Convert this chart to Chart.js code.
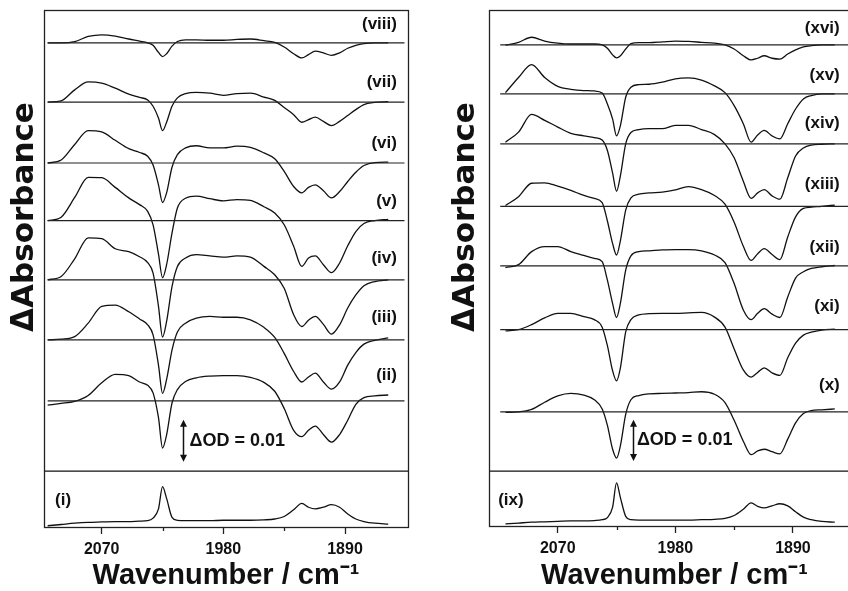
<!DOCTYPE html>
<html>
<head>
<meta charset="utf-8">
<script src="https://cdn.jsdelivr.net/npm/chart.js@4.4.1/dist/chart.umd.min.js"></script>
<style>
    html, body { margin: 0; padding: 0; background: #fff; overflow: hidden; }
    body { width: 848px; height: 591px; position: relative; }
    .panel { position: absolute; top: 0; height: 591px; }
    #left { left: 0; width: 424px; }
    #right { left: 424px; width: 440px; }
</style>
</head>
<body>
<div class="panel" id="left"><canvas id="chartLeft"></canvas></div>
<div class="panel" id="right"><canvas id="chartRight"></canvas></div>
<script>
// wavenumber grid (cm-1) shared by all spectra
const wavenumbers = [2110, 2100, 2090, 2080, 2070, 2060, 2050, 2042, 2036, 2032, 2028, 2025, 2022, 2018, 2014, 2008, 2000, 1990, 1980, 1970, 1960, 1950, 1942, 1935, 1928, 1922, 1917, 1912, 1906, 1900, 1894, 1888, 1882, 1876, 1868, 1858];

// tick labels
const tickValues = [2070, 1980, 1890];
const minorTicks = [2025, 1935];

// spectra, ΔAbsorbance in mOD (1e-3)
const spec1 = [0, 0.3, 0.6, 0.8, 0.9, 1.0, 1.0, 1.1, 1.2, 1.8, 4.0, 9.3, 6.5, 2.0, 1.3, 1.2, 1.2, 1.2, 1.3, 1.3, 1.3, 1.4, 1.6, 2.2, 3.8, 5.3, 4.4, 4.0, 4.4, 5.0, 4.4, 2.8, 1.6, 1.0, 0.6, 0.4];
const spec2 = [-1.0, -0.6, -0.1, 1.3, 4.3, 6.3, 6.0, 4.5, 3.7, 1.9, -4.0, -11.2, -8.1, -0.5, 2.7, 4.6, 5.5, 5.9, 6.0, 6.0, 5.6, 4.4, 2.3, -1.8, -7.0, -8.5, -7.0, -6.0, -8.0, -9.8, -8.0, -4.6, -0.8, 0.8, 1.2, 1.4];
const spec3 = [0, 0.2, 0.8, 4.0, 8.0, 8.3, 6.7, 5.0, 3.6, 1.2, -6.0, -12.7, -9.4, -2.4, 1.9, 4.0, 5.2, 5.6, 5.4, 5.4, 4.8, 3.0, 0.6, -3.2, -7.5, -10.0, -8.8, -7.9, -10.0, -11.7, -10.0, -6.0, -3.0, -1.0, -0.1, 0.5];
const spec4 = [0, 0.8, 5.0, 10.0, 9.8, 7.4, 6.7, 5.5, 4.1, 1.6, -6.3, -13.6, -9.9, -1.6, 3.2, 5.2, 6.0, 5.7, 5.4, 5.7, 5.4, 3.2, 1.2, -2.0, -8.3, -11.1, -9.6, -8.7, -10.6, -12.9, -10.7, -6.7, -3.6, -1.4, -0.4, 0];
const spec5 = [0, 0.8, 5.5, 10.3, 10.2, 7.9, 5.4, 3.8, 2.2, -1.0, -8.0, -13.6, -10.5, -3.0, 3.0, 5.3, 5.8, 5.2, 4.7, 5.0, 4.8, 3.3, 1.8, -1.0, -6.1, -10.9, -8.9, -8.4, -10.5, -12.4, -10.1, -6.0, -2.6, -0.7, 0, 0.3];
const spec6 = [0, 0.7, 4.4, 7.7, 7.4, 5.4, 3.4, 2.5, 1.6, -0.5, -5.2, -9.4, -7.1, -1.0, 2.0, 3.6, 4.1, 3.6, 3.6, 4.0, 3.7, 2.4, 1.0, -2.0, -5.6, -7.1, -5.8, -5.2, -6.6, -8.3, -6.8, -4.4, -2.2, -0.6, 0.1, 0.2];
const spec7 = [0, 0.3, 2.9, 4.8, 4.5, 3.3, 1.9, 1.1, 0.5, -1.0, -3.8, -6.8, -4.8, -1.0, 1.0, 2.0, 2.3, 2.1, 1.6, 2.0, 2.1, 1.2, 0.4, -1.3, -3.0, -4.8, -4.2, -3.6, -4.6, -5.6, -4.6, -3.2, -1.8, -0.6, -0.1, 0.1];
const spec8 = [0, 0, 0.3, 1.5, 1.9, 1.6, 0.9, 0.4, 0, -0.6, -2.3, -3.3, -2.6, -0.8, 0.3, 0.7, 0.7, 0.6, 0.6, 0.8, 0.9, 0.5, 0.1, -1.0, -2.6, -3.6, -2.8, -2.0, -2.4, -3.0, -2.4, -1.3, -0.6, -0.2, 0, 0];

const spec9 = [0, 0.2, 0.4, 0.5, 0.6, 0.7, 0.7, 0.8, 1.0, 1.5, 4.0, 9.8, 6.2, 1.8, 1.0, 0.9, 0.9, 0.9, 0.9, 0.9, 1.0, 1.1, 1.3, 2.0, 3.5, 5.0, 4.2, 3.8, 4.3, 4.8, 4.3, 2.9, 1.6, 1.0, 0.6, 0.4];
const spec10 = [-0.1, 0, 0.6, 2.3, 3.8, 4.4, 4.0, 2.9, 0.7, -3.2, -8.9, -11.0, -8.0, -0.6, 2.9, 3.9, 4.3, 4.4, 4.5, 4.6, 4.8, 4.2, 2.2, -2.0, -7.0, -10.2, -9.3, -8.9, -9.5, -10.0, -6.5, -2.6, -0.4, 0.3, 0.5, 0.7];
const spec11 = [-0.3, 0, 1.2, 2.8, 3.9, 3.9, 3.1, 2.4, 0.6, -3.8, -9.8, -12.2, -9.0, -0.5, 2.4, 3.5, 3.8, 3.9, 3.9, 4.0, 4.1, 3.0, 0.6, -4.6, -9.6, -11.3, -10.2, -9.1, -10.3, -10.9, -6.7, -3.2, -1.3, -0.6, -0.1, 0.1];
const spec12 = [-0.4, 0.3, 3.4, 4.6, 4.6, 3.4, 2.5, 1.8, 1.0, -3.4, -9.0, -12.3, -8.8, -1.0, 2.4, 3.4, 3.6, 3.8, 3.9, 3.9, 3.6, 2.6, 0.8, -4.2, -10.5, -12.8, -11.3, -10.2, -11.5, -12.3, -7.4, -2.9, -1.4, -0.6, -0.2, 0.1];
const spec13 = [0.2, 2.3, 5.5, 5.6, 4.8, 3.8, 2.6, 1.9, 0.9, -3.5, -8.9, -11.6, -8.1, -0.9, 2.0, 2.9, 3.2, 3.4, 3.9, 4.7, 4.0, 2.6, 0.5, -3.8, -9.5, -12.9, -11.3, -10.1, -11.5, -12.7, -7.3, -2.5, -0.5, -0.2, 0, 0.3];
const spec14 = [0.4, 2.8, 7.0, 5.6, 4.0, 2.5, 1.9, 1.5, 0.9, -1.6, -7.0, -11.3, -7.5, 0, 2.7, 3.4, 3.6, 3.6, 4.4, 4.4, 3.4, 2.2, 0, -3.3, -8.9, -13.0, -11.7, -10.9, -12.4, -13.2, -8.1, -2.9, -1.0, -0.3, -0.1, 0];
const spec15 = [0.3, 3.9, 7.0, 3.9, 1.8, 1.1, 0.8, 0.7, 0.2, -2.4, -6.0, -10.0, -7.5, -0.8, 1.6, 2.2, 2.3, 2.8, 3.6, 3.8, 3.3, 1.9, 0.3, -2.8, -7.1, -11.5, -9.8, -8.7, -10.0, -10.7, -7.1, -3.6, -1.2, -0.4, 0, 0];
const spec16 = [-0.1, 0.6, 1.8, 0.9, 0.4, 0.2, 0.2, 0.2, 0, -0.8, -2.4, -3.1, -2.6, -1.0, 0.3, 0.5, 0.5, 0.7, 0.9, 0.8, 0.6, 0.4, 0, -1.0, -2.6, -3.6, -3.2, -2.6, -3.2, -3.4, -2.2, -1.2, -0.5, -0.2, 0, 0];

const leftSpectra = [spec1, spec2, spec3, spec4, spec5, spec6, spec7, spec8];
const rightSpectra = [spec9, spec10, spec11, spec12, spec13, spec14, spec15, spec16];
const leftNames = ["(i)", "(ii)", "(iii)", "(iv)", "(v)", "(vi)", "(vii)", "(viii)"];
const rightNames = ["(ix)", "(x)", "(xi)", "(xii)", "(xiii)", "(xiv)", "(xv)", "(xvi)"];

// stacking offsets (mOD)
const leftOffsets = [0.3, 30.0, 44.5, 58.8, 72.9, 86.6, 101.1, 115.2];
const rightOffsets = [0.5, 27.2, 46.8, 62.0, 76.2, 91.1, 103.0, 114.7];
const leftLabelY = [6.4, 36.2, 49.8, 64.0, 77.4, 91.2, 105.7, 119.5];
const rightLabelY = [6.2, 33.6, 52.4, 66.4, 81.4, 96.0, 107.4, 118.6];

const FONT = '"Liberation Sans", Arial, sans-serif';
const INK = "#111";

function buildDatasets(spectra, offsets, baseFrom, baseTo, sepY, xMin, xMax) {
    const sets = [];
    // separator under the reference spectrum
    sets.push({ data: [{ x: xMax, y: sepY }, { x: xMin, y: sepY }], borderColor: INK, borderWidth: 1.3, tension: 0 });
    spectra.forEach((spec, k) => {
        if (k > 0) {
            sets.push({ data: [{ x: baseFrom, y: offsets[k] }, { x: baseTo, y: offsets[k] }], borderColor: "#222", borderWidth: 1.2, tension: 0 });
        }
        sets.push({
            data: wavenumbers.map((w, j) => ({ x: w, y: spec[j] + offsets[k] })),
            borderColor: INK,
            borderWidth: 1.3,
            cubicInterpolationMode: "monotone"
        });
    });
    return sets;
}

// frame, minor ticks, sample labels, ΔOD bar and rotated axis title
const decorPlugin = {
    id: "decor",
    afterDraw(chart, args, o) {
        const { ctx, chartArea: a, scales: { x, y } } = chart;
        ctx.save();
        ctx.strokeStyle = "#222";
        ctx.lineWidth = 1.3;
        ctx.strokeRect(Math.round(a.left) + 0.5, Math.round(a.top) + 0.5, a.right - a.left, a.bottom - a.top);
        minorTicks.forEach((v) => {
            const px = Math.round(x.getPixelForValue(v)) + 0.5;
            ctx.beginPath();
            ctx.moveTo(px, a.bottom);
            ctx.lineTo(px, a.bottom + 4);
            ctx.stroke();
        });

        ctx.fillStyle = INK;
        ctx.font = "bold 17px " + FONT;
        ctx.textBaseline = "middle";
        o.names.forEach((t, k) => {
            if (k === 0) {
                ctx.textAlign = "left";
                ctx.fillText(t, x.getPixelForValue(o.firstX), y.getPixelForValue(o.labelY[k]));
            } else {
                ctx.textAlign = "right";
                ctx.fillText(t, x.getPixelForValue(o.labelX), y.getPixelForValue(o.labelY[k]));
            }
        });

        // ΔOD = 0.01 bar
        const ax = Math.round(x.getPixelForValue(o.arrowX)) + 0.5;
        const y0 = y.getPixelForValue(o.arrowY[0]);
        const y1 = y.getPixelForValue(o.arrowY[1]);
        ctx.strokeStyle = INK;
        ctx.lineWidth = 1.5;
        ctx.beginPath();
        ctx.moveTo(ax, y0 - 5);
        ctx.lineTo(ax, y1 + 5);
        ctx.stroke();
        ctx.beginPath();
        ctx.moveTo(ax, y1); ctx.lineTo(ax - 3.5, y1 + 7); ctx.lineTo(ax + 3.5, y1 + 7); ctx.closePath();
        ctx.moveTo(ax, y0); ctx.lineTo(ax - 3.5, y0 - 7); ctx.lineTo(ax + 3.5, y0 - 7); ctx.closePath();
        ctx.fill();
        ctx.font = "bold 18px " + FONT;
        ctx.textAlign = "left";
        ctx.fillText("\u0394OD = 0.01", x.getPixelForValue(o.textX), y.getPixelForValue((o.arrowY[0] + o.arrowY[1]) / 2));

        // y title
        ctx.translate(o.titleX, o.titleY);
        ctx.rotate(-Math.PI / 2);
        ctx.textAlign = "center";
        ctx.font = 'bold 31px "DejaVu Sans", ' + FONT;
        ctx.fillText("\u0394Absorbance", 0, 0);
        ctx.restore();
    }
};

function makeChart(id, spectra, offsets, opts) {
    return new Chart(document.getElementById(id), {
        type: "line",
        data: { datasets: buildDatasets(spectra, offsets, opts.baseFrom, opts.baseTo, opts.sepY, opts.xMin, opts.xMax) },
        plugins: [decorPlugin],
        options: {
            responsive: true,
            maintainAspectRatio: false,
            animation: false,
            parsing: false,
            layout: { padding: opts.padding },
            elements: { point: { radius: 0 } },
            plugins: {
                legend: { display: false },
                tooltip: { enabled: false },
                decor: opts.decor
            },
            scales: {
                x: {
                    type: "linear",
                    reverse: true,
                    min: opts.xMin,
                    max: opts.xMax,
                    afterBuildTicks: (s) => {
                        s.ticks = tickValues.slice().sort((p, q) => p - q).map((v) => ({ value: v }));
                    },
                    afterFit: (s) => { s.height = opts.xHeight; },
                    border: { display: false },
                    grid: { drawOnChartArea: false, drawTicks: true, tickLength: 7, color: "#222", tickWidth: 1.3 },
                    ticks: {
                        autoSkip: false,
                        maxRotation: 0,
                        padding: 6,
                        color: INK,
                        font: { family: FONT, size: 16, weight: "bold" },
                        callback: (v) => String(v)
                    },
                    title: {
                        display: true,
                        text: "Wavenumber / cm\u207B\u00B9",
                        color: INK,
                        padding: 0,
                        font: { family: FONT, size: 29, weight: "bold", lineHeight: 1.05 }
                    }
                },
                y: { display: false, min: 0, max: 123 }
            }
        }
    });
}

makeChart("chartLeft", leftSpectra, leftOffsets, {
    xMin: 1843.4, xMax: 2112.7,
    baseFrom: 2110, baseTo: 1846,
    sepY: 13.3,
    xHeight: 64,
    padding: { left: 44, right: 16, top: 10, bottom: 0 },
    decor: {
        names: leftNames, labelY: leftLabelY,
        labelX: 1851.6, firstX: 2104.5,
        arrowX: 2010, arrowY: [15.5, 25.5], textX: 2005,
        titleX: 25, titleY: 217
    }
});

makeChart("chartRight", rightSpectra, rightOffsets, {
    xMin: 1838.7, xMax: 2122.6,
    baseFrom: 2114, baseTo: 1838.7,
    sepY: 13.1,
    xHeight: 65,
    padding: { left: 65, right: 4, top: 10, bottom: 0 },
    decor: {
        names: rightNames, labelY: rightLabelY,
        labelX: 1854.2, firstX: 2115.6,
        arrowX: 2012.4, arrowY: [15.5, 25.3], textX: 2009.4,
        titleX: 42, titleY: 217
    }
});
</script>
</body>
</html>
